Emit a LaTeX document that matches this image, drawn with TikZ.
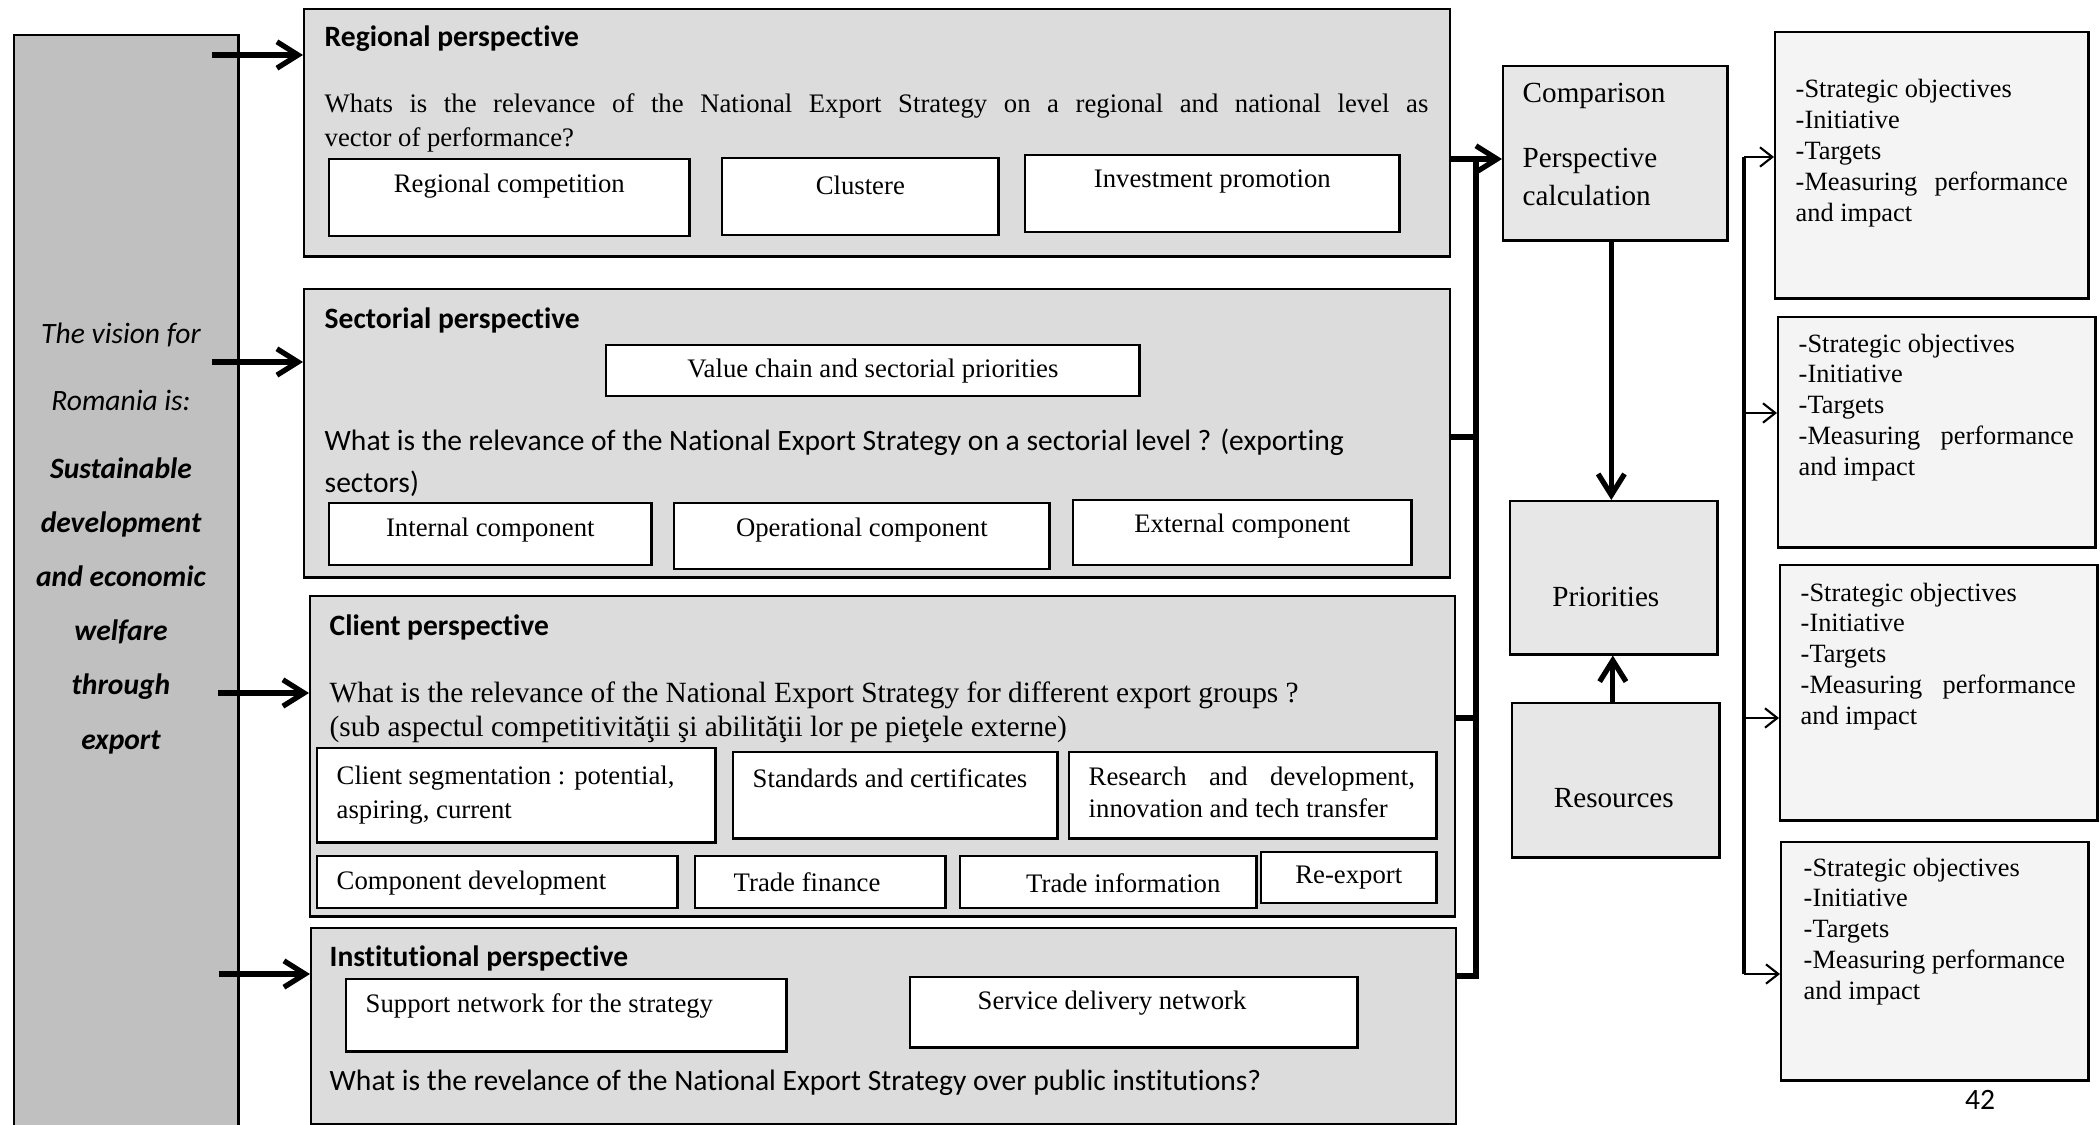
\documentclass[tikz,border=0pt]{standalone}
\usepackage{fontspec}
\setmainfont{Liberation Serif}
\newfontfamily\calibri[Ligatures=CommonOff]{Carlito}
\usepackage{tikz}
\usetikzlibrary{arrows.meta,calc}
\definecolor{visiongray}{HTML}{C0C0C0}
\definecolor{perspgray}{HTML}{DCDCDC}
\definecolor{midgray}{HTML}{E7E7E7}
\definecolor{goalgray}{HTML}{F4F4F4}

\begin{document}
\begin{tikzpicture}[x=0.01cm,y=-0.01cm,
  font=\fontsize{7.6}{9.25}\selectfont,
  box/.style={draw, line width=0.7pt, anchor=north west, inner sep=0pt},
  vision/.style={box, fill=visiongray},
  persp/.style={box, fill=perspgray},
  part/.style={box, fill=white},
  mid/.style={box, fill=midgray},
  goal/.style={box, fill=goalgray},
  head/.style={anchor=west, inner sep=0pt, font=\calibri\bfseries\fontsize{8.4}{10}\selectfont},
  txt/.style={inner sep=0pt},
  lines/.style={anchor=north west, inner sep=0pt, align=left},
  goaltext/.style={lines, font=\fontsize{7.5}{8.75}\selectfont},
  bold arrow/.style={line width=1.5pt, -{Straight Barb[length=6pt,width=7.5pt]}},
  bus/.style={line width=1.6pt, line join=miter},
  thin arrow/.style={line width=0.6pt, -{Straight Barb[length=3.5pt,width=5.5pt]}}]
\useasboundingbox (0,0) rectangle (2100,1125);

% vision column
\node[vision, minimum width=2.24cm, minimum height=11.1cm] (vis) at (13,34) {};
\node[txt, anchor=north, align=center, font=\calibri\itshape\fontsize{8.4}{15.4}\selectfont] (vistext) at (121,322)
  {The vision for\\[3.8pt] Romania is:\\[3.8pt] \textbf{Sustainable}\\ \textbf{development}\\ \textbf{and economic}\\
   \textbf{welfare}\\ \textbf{through}\\ \textbf{export}};

% regional perspective
\node[persp, minimum width=11.45cm, minimum height=2.47cm] (reg) at (303,8) {};
\node[head] (reghead) at (324,39) {Regional perspective};
\node[lines, font=\fontsize{7.6}{9.6}\selectfont] (regq) at (324,93)
  {\makebox[11.03cm][s]{Whats is the relevance of the National Export Strategy on a regional and national level as}\\
   vector of performance?};
\node[part, minimum width=3.6cm, minimum height=0.77cm] (regcomp) at (328,158) {};
\node[txt] at ($(regcomp.north)+(0,28)$) {Regional competition};
\node[part, minimum width=2.76cm, minimum height=0.77cm] (clust) at (721,157) {};
\node[txt] at ($(clust.north)+(0,28)$) {Clustere};
\node[part, minimum width=3.74cm, minimum height=0.77cm] (invest) at (1024,154) {};
\node[txt] at ($(invest.north)+(0,28)$) {Investment promotion};

% sectorial perspective
\node[persp, minimum width=11.45cm, minimum height=2.88cm] (sec) at (303,288) {};
\node[head] (sechead) at (324,320) {Sectorial perspective};
\node[part, minimum width=5.33cm, minimum height=0.51cm] (valch) at (605,344) {Value chain and sectorial priorities};
\node[lines, font=\calibri\fontsize{8.4}{11.95}\selectfont] (secq) at (324,428)
  {What is the relevance of the National Export Strategy on a sectorial level ? (exporting\\ sectors)};
\node[part, minimum width=3.22cm, minimum height=0.62cm] (intern) at (328,502) {};
\node[txt] at ($(intern.north)+(0,28)$) {Internal component};
\node[part, minimum width=3.75cm, minimum height=0.66cm] (operat) at (673,502) {};
\node[txt] at ($(operat.north)+(0,28)$) {Operational component};
\node[part, minimum width=3.38cm, minimum height=0.65cm] (extern) at (1072,499) {};
\node[txt] at ($(extern.north)+(0,27)$) {External component};

% client perspective
\node[persp, minimum width=11.44cm, minimum height=3.2cm] (cli) at (309,595) {};
\node[head] (clihead) at (329,627) {Client perspective};
\node[lines, font=\fontsize{8.35}{9.7}\selectfont] (cliq) at (329,681)
  {What is the relevance of the National Export Strategy for different export groups ?\\
   (sub aspectul competitivităţii şi abilităţii lor pe pieţele externe)};
\node[part, minimum width=3.98cm, minimum height=0.94cm] (segm) at (316,747) {};
\node[lines, font=\fontsize{7.6}{9.7}\selectfont] at ($(segm.north west)+(20,18)$) {Client segmentation : potential,\\ aspiring, current};
\node[part, minimum width=3.24cm, minimum height=0.86cm] (stand) at (732,751) {};
\node[txt, anchor=west] at ($(stand.north west)+(20,27)$) {Standards and certificates};
\node[part, minimum width=3.67cm, minimum height=0.86cm] (resdev) at (1068,751) {};
\node[lines, font=\fontsize{7.6}{9.1}\selectfont] at ($(resdev.north west)+(20,15)$)
  {\makebox[3.26cm][s]{Research and development,}\\ innovation and tech transfer};
\node[part, minimum width=3.6cm, minimum height=0.52cm] (compdev) at (316,855) {};
\node[txt, anchor=west] at ($(compdev.west)+(20,1)$) {Component development};
\node[part, minimum width=2.5cm, minimum height=0.52cm] (tfin) at (694,855) {};
\node[txt, anchor=west] at ($(tfin.west)+(39,0)$) {Trade finance};
\node[part, minimum width=2.96cm, minimum height=0.52cm] (tinfo) at (959,855) {};
\node[txt] at ($(tinfo.center)+(15,1)$) {Trade information};
\node[part, minimum width=1.75cm, minimum height=0.51cm] (reexp) at (1260,851) {Re-export};

% institutional perspective
\node[persp, minimum width=11.44cm, minimum height=1.96cm] (ins) at (310,927) {};
\node[head] (inshead) at (329,958) {Institutional perspective};
\node[part, minimum width=4.4cm, minimum height=0.72cm] (support) at (345,978) {};
\node[txt, anchor=west] at ($(support.north west)+(20,28)$) {Support network for the strategy};
\node[part, minimum width=4.47cm, minimum height=0.7cm] (service) at (909,976) {};
\node[txt, anchor=west] at ($(service.north west)+(68,27)$) {Service delivery network};
\node[txt, anchor=west, font=\calibri\fontsize{8.4}{10}\selectfont] (insq) at (329,1083)
  {What is the revelance of the National Export Strategy over public institutions?};

% middle column
\node[mid, minimum width=2.24cm, minimum height=1.74cm] (cmp) at (1502,65) {};
\node[lines, font=\fontsize{8.3}{10.8}\selectfont] at ($(cmp.north west)+(20,17)$)
  {Comparison\\[7.9pt] Perspective\\ calculation};
\node[mid, minimum width=2.07cm, minimum height=1.53cm] (pri) at (1509,500) {};
\node[txt, font=\fontsize{8.3}{10}\selectfont] at ($(pri.center)+(-8,19)$) {Priorities};
\node[mid, minimum width=2.07cm, minimum height=1.54cm] (res) at (1511,702) {};
\node[txt, font=\fontsize{8.3}{10}\selectfont] at ($(res.center)+(-2,18)$) {Resources};

% objective boxes
\node[goal, minimum width=3.13cm, minimum height=2.66cm] (goal1) at (1774,31) {};
\node[goaltext] at ($(goal1.north west)+(21,48)$)
  {-Strategic objectives\\ -Initiative\\ -Targets\\ \makebox[2.72cm][s]{-Measuring performance}\\ and impact};
\node[goal, minimum width=3.17cm, minimum height=2.30cm] (goal2) at (1777,316) {};
\node[goaltext] at ($(goal2.north west)+(21,17)$)
  {-Strategic objectives\\ -Initiative\\ -Targets\\ \makebox[2.75cm][s]{-Measuring performance}\\ and impact};
\node[goal, minimum width=3.17cm, minimum height=2.55cm] (goal3) at (1779,564) {};
\node[goaltext] at ($(goal3.north west)+(21,18)$)
  {-Strategic objectives\\ -Initiative\\ -Targets\\ \makebox[2.75cm][s]{-Measuring performance}\\ and impact};
\node[goal, minimum width=3.07cm, minimum height=2.38cm] (goal4) at (1780,841) {};
\node[goaltext] at ($(goal4.north west)+(23,16)$)
  {-Strategic objectives\\ -Initiative\\ -Targets\\ -Measuring performance\\ and impact};

\node[txt, font=\calibri\fontsize{8.4}{10}\selectfont] (pagenum) at (1980,1100) {42};

% input arrows
\coordinate (in1) at (212,55);
\coordinate (in2) at (212,362);
\coordinate (in3) at (218,693);
\coordinate (in4) at (219,974);
\draw[bold arrow] (in1) -- (in1 -| reg.west);
\draw[bold arrow] (in2) -- (in2 -| sec.west);
\draw[bold arrow] (in3) -- (in3 -| cli.west);
\draw[bold arrow] (in4) -- (in4 -| ins.west);

% collecting bus
\coordinate (j1) at (1476,159);
\coordinate (j2) at (1476,437);
\coordinate (j3) at (1476,718);
\coordinate (j4) at (1476,976);
\draw[bold arrow] (reg.east |- j1) -- (j1 -| cmp.west);
\draw[bus] (ins.east |- j4) -- (j4) -- (j1);
\draw[bus] (sec.east |- j2) -- (j2);
\draw[bus] (cli.east |- j3) -- (j3);

\coordinate (down) at ($(cmp.south)+(-4,0)$);
\coordinate (up) at ($(res.north)+(-3,0)$);
\draw[bold arrow] (down) -- (down |- pri.north);
\draw[bold arrow] (up) -- (up |- pri.south);

% goal bus
\coordinate (k1) at (1744,157);
\coordinate (k2) at (1744,413);
\coordinate (k3) at (1744,718);
\coordinate (k4) at (1744,974);
\draw[line width=1.3pt] (k1) -- (k4);
\draw[thin arrow] (k1) -- (k1 -| goal1.west);
\draw[thin arrow] (k2) -- (k2 -| goal2.west);
\draw[thin arrow] (k3) -- (k3 -| goal3.west);
\draw[thin arrow] (k4) -- (k4 -| goal4.west);
\end{tikzpicture}
\end{document}
